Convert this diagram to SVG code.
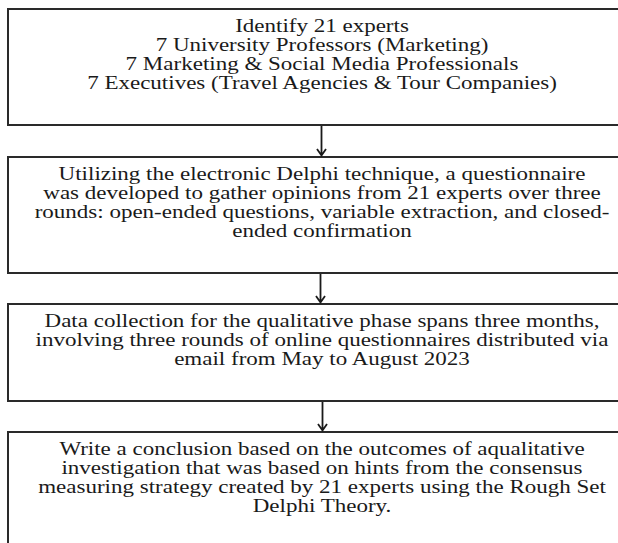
<svg xmlns="http://www.w3.org/2000/svg" width="618" height="543" viewBox="0 0 618 543">
<style>
.box{fill:#fff;stroke:#2a2a2a;stroke-width:2}
.t{font-family:"Liberation Serif","Times New Roman",serif;font-size:19.5px;fill:#1a1a1a;text-anchor:middle}
.c{stroke:#1a1a1a;stroke-width:1.8;fill:none}
</style>
<rect width="618" height="543" fill="#fff"/>
<g id="n1">
<rect class="box" x="8" y="9" width="628" height="116"/>
<g transform="translate(322 0) scale(1.18 1)">
<text class="t" x="0" y="32">Identify 21 experts</text>
<text class="t" x="0" y="51">7 University Professors (Marketing)</text>
<text class="t" x="0" y="70">7 Marketing &amp; Social Media Professionals</text>
<text class="t" x="0" y="89">7 Executives (Travel Agencies &amp; Tour Companies)</text>
</g>
</g>
<g id="n2">
<rect class="box" x="8" y="157" width="628" height="116"/>
<g transform="translate(322 0) scale(1.18 1)">
<text class="t" x="0" y="180">Utilizing the electronic Delphi technique, a questionnaire</text>
<text class="t" x="0" y="199">was developed to gather opinions from 21 experts over three</text>
<text class="t" x="0" y="218">rounds: open-ended questions, variable extraction, and closed-</text>
<text class="t" x="0" y="237">ended confirmation</text>
</g>
</g>
<g id="n3">
<rect class="box" x="8" y="304" width="628" height="97"/>
<g transform="translate(322 0) scale(1.18 1)">
<text class="t" x="0" y="327">Data collection for the qualitative phase spans three months,</text>
<text class="t" x="0" y="346">involving three rounds of online questionnaires distributed via</text>
<text class="t" x="0" y="365">email from May to August 2023</text>
</g>
</g>
<g id="n4">
<rect class="box" x="8" y="432" width="628" height="130"/>
<g transform="translate(322 0) scale(1.18 1)">
<text class="t" x="0" y="455">Write a conclusion based on the outcomes of aqualitative</text>
<text class="t" x="0" y="474">investigation that was based on hints from the consensus</text>
<text class="t" x="0" y="493">measuring strategy created by 21 experts using the Rough Set</text>
<text class="t" x="0" y="512">Delphi Theory.</text>
</g>
</g>
<g id="connectors">
<path class="c" d="M321.5 126 V155 M317 149 L321.5 155.5 L326 149"/>
<path class="c" d="M320.5 274 V302 M316 296 L320.5 302.5 L325 296"/>
<path class="c" d="M322.5 402 V430 M318 424 L322.5 430.5 L327 424"/>
</g>
</svg>
